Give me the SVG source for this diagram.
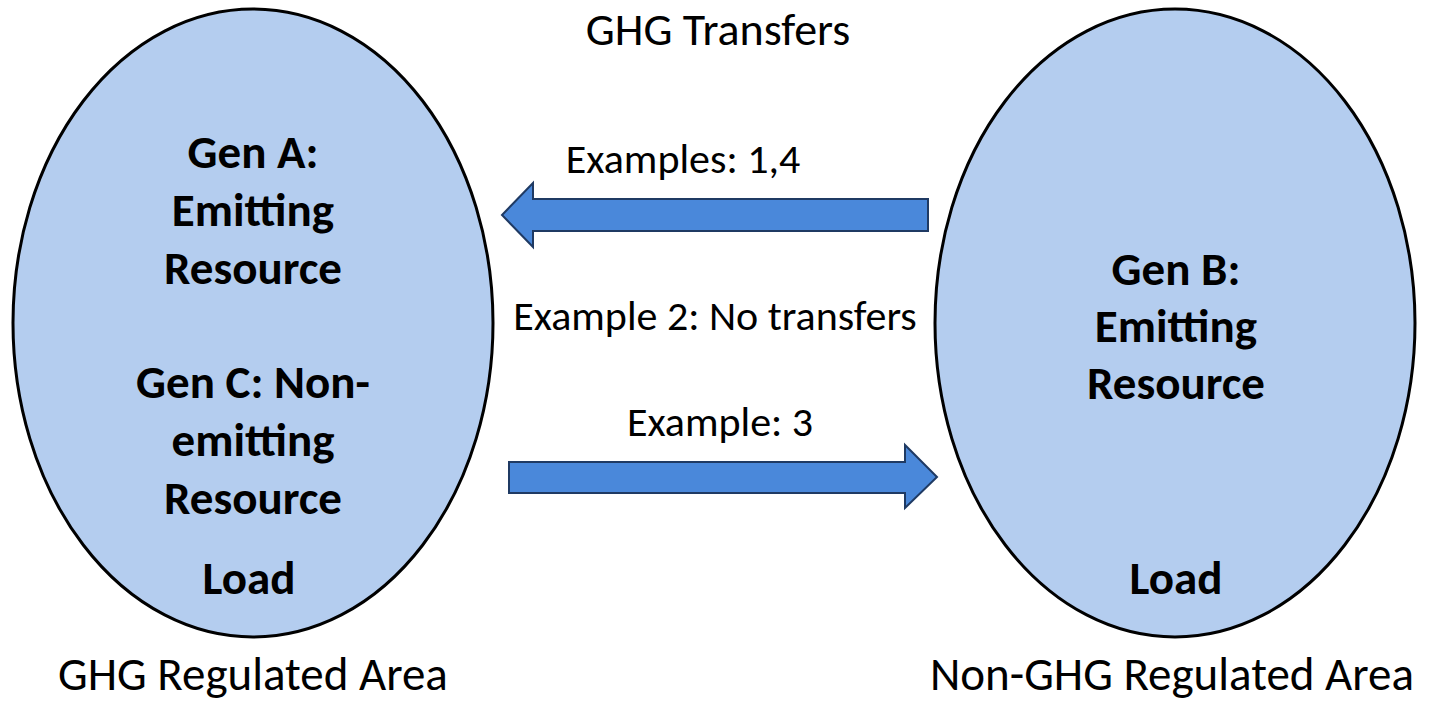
<svg xmlns="http://www.w3.org/2000/svg" width="1429" height="701" viewBox="0 0 1429 701">
  <style>
    .area { fill: #B4CDEF; stroke: #000; stroke-width: 3; }
    .flow { fill: #4A88DA; stroke: #1F3A63; stroke-width: 2; stroke-linejoin: miter; }
    .lbl { font-family: Carlito, Lato, "Open Sans", sans-serif; font-size: 42px; fill: #000; text-anchor: middle; }
    .big { font-size: 47px; }
    .res { font-family: Carlito, Lato, "Open Sans", sans-serif; font-size: 47px; font-weight: bold; fill: #000; text-anchor: middle; }
  </style>
  <rect width="1429" height="701" fill="#fff"/>

  <text class="lbl" x="718" y="45" style="font-size:46px">GHG Transfers</text>

  <!-- regulated area -->
  <g id="ghg-area">
    <ellipse class="area" cx="253" cy="323" rx="240" ry="314"/>
    <text class="res" x="253" y="168">Gen A:</text>
    <text class="res" x="253" y="226">Emitting</text>
    <text class="res" x="253" y="284">Resource</text>
    <text class="res" x="253" y="398">Gen C: Non-</text>
    <text class="res" x="253" y="456">emitting</text>
    <text class="res" x="253" y="514">Resource</text>
    <text class="res" x="249" y="594">Load</text>
    <text class="lbl big" x="253" y="690">GHG Regulated Area</text>
  </g>

  <!-- unregulated area -->
  <g id="non-ghg-area">
    <ellipse class="area" cx="1175" cy="323" rx="240" ry="314"/>
    <text class="res" x="1176" y="285">Gen B:</text>
    <text class="res" x="1176" y="342">Emitting</text>
    <text class="res" x="1176" y="399">Resource</text>
    <text class="res" x="1176" y="594">Load</text>
    <text class="lbl big" x="1172" y="690">Non-GHG Regulated Area</text>
  </g>

  <!-- transfers between the areas -->
  <g id="connectors">
    <g id="import">
      <polygon class="flow" points="928,199 533,199 533,183 502,215 533,247 533,231 928,231"/>
      <text class="lbl" x="683" y="173">Examples: 1,4</text>
    </g>
    <text class="lbl" x="715" y="330">Example 2: No transfers</text>
    <g id="export">
      <polygon class="flow" points="509,462 905,462 905,445 937,477 905,508 905,493 509,493"/>
      <text class="lbl" x="720" y="436">Example: 3</text>
    </g>
  </g>
</svg>
